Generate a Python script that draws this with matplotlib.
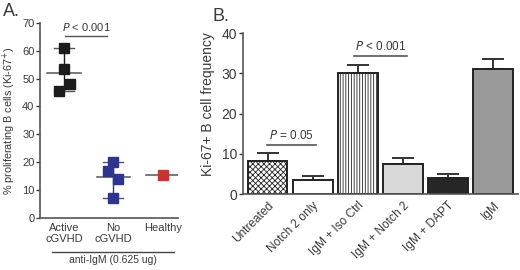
import numpy as np
import matplotlib.pyplot as plt
from matplotlib.transforms import blended_transform_factory

plt.rcParams['font.family'] = ['Liberation Sans', 'DejaVu Sans']
plt.rcParams['hatch.linewidth'] = 0.6

# panel A data
groups_a = ["Active\ncGVHD", "No\ncGVHD", "Healthy"]
active_vals = [61, 53.5, 48, 45.5]
active_jit = [0.0, 0.0, 0.12, -0.1]
nocgvhd_vals = [20, 17, 14, 7]
nocgvhd_jit = [0.0, -0.1, 0.1, 0.0]
healthy_vals = [15.5]
healthy_jit = [0.0]
centers_a = [52, 14.7, 15.5]
colors_a = ["#1c1c1c", "#2d3590", "#c8342f"]

# panel B data
groups_b = ["Untreated", "Notch 2 only", "IgM + Iso Ctrl", "IgM + Notch 2", "IgM + DAPT", "IgM"]
means_b = [8.3, 3.6, 30.1, 7.6, 4.1, 31.1]
err_b = [1.8, 1.0, 1.9, 1.5, 1.0, 2.5]
fills_b = ["white", "white", "white", "#d9d9d9", "#262626", "#9a9a9a"]
hatches_b = ["xxxxxx", "", "||||||", "", "", ""]

txt = "#3a3a3a"
fig = plt.figure(figsize=(5.2, 2.7), dpi=100)

# ---- A ----
ax = fig.add_axes([0.077, 0.193, 0.265, 0.722])
series = [(active_vals, active_jit), (nocgvhd_vals, nocgvhd_jit), (healthy_vals, healthy_jit)]
for i, (vals, jit) in enumerate(series):
    c = colors_a[i]
    if len(vals) > 1:
        ax.plot([i, i], [min(vals), max(vals)], color=c, lw=1, zorder=1)
        ax.plot([i - 0.2, i + 0.2], [max(vals)] * 2, color="#555555", lw=1, zorder=1)
        ax.plot([i - 0.2, i + 0.2], [min(vals)] * 2, color="#555555", lw=1, zorder=1)
    ax.plot([i - 0.34, i + 0.34], [centers_a[i]] * 2, color="#555555", lw=1.1, zorder=1)
    ax.plot(np.array(jit) + i, vals, "s", color=c, ms=6.5, zorder=3)

ax.set_xlim(-0.48, 2.3)
ax.set_ylim(0, 70)
ax.set_yticks(range(0, 71, 10))
ax.set_xticks(range(3))
ax.set_xticklabels(groups_a, fontsize=8, color=txt, linespacing=1.1)
ax.tick_params(axis='x', length=0, pad=4)
ax.tick_params(axis='y', labelsize=8, colors=txt, length=3, width=1, pad=1)
for s in ["top", "right"]:
    ax.spines[s].set_visible(False)
for s in ["left", "bottom"]:
    ax.spines[s].set_color("#555555")
    ax.spines[s].set_linewidth(1.2)
ax.set_ylabel("% proliferating B cells (Ki-67$^{+}$)", fontsize=7.8, color=txt, labelpad=3)
ax.plot([0.02, 0.88], [65.3, 65.3], color="#555555", lw=1, clip_on=False)
ax.text(0.45, 66.3, "$P$ < 0.001", ha="center", va="bottom", fontsize=8, color=txt)
tr = blended_transform_factory(ax.transData, ax.transAxes)
ax.plot([-0.24, 2.22], [-0.175, -0.175], color="#444444", lw=1, transform=tr, clip_on=False)
ax.text(0.99, -0.19, "anti-IgM (0.625 ug)", ha="center", va="top", fontsize=7.5,
        color=txt, transform=tr)
fig.text(0.006, 0.99, "A.", fontsize=13, color=txt, va="top")

# ---- B ----
bx = fig.add_axes([0.467, 0.281, 0.529, 0.596])
x = np.arange(len(groups_b))
bx.bar(x, means_b, width=0.88, color=fills_b, edgecolor="#222222", lw=1.4,
       hatch=hatches_b, zorder=2)
for xi, m, e in zip(x, means_b, err_b):
    bx.errorbar(xi, m, yerr=[[0], [e]], fmt="none", ecolor="#333333", elinewidth=1.4,
                capsize=8, capthick=1.4, zorder=1)
bx.set_xlim(-0.55, 5.55)
bx.set_ylim(0, 40)
bx.set_yticks(range(0, 41, 10))
bx.set_xticks(x)
bx.set_xticklabels(groups_b, rotation=45, ha="right", rotation_mode="anchor",
                   fontsize=8.6, color=txt)
bx.tick_params(axis='x', length=0, pad=4)
bx.tick_params(axis='y', labelsize=10, colors=txt, length=3, width=1, pad=1)
for s in ["top", "right"]:
    bx.spines[s].set_visible(False)
for s in ["left", "bottom"]:
    bx.spines[s].set_color("#555555")
    bx.spines[s].set_linewidth(1.2)
bx.set_ylabel("Ki-67+ B cell frequency", fontsize=10, color=txt, labelpad=3)
bx.yaxis.set_label_coords(-0.1, 0.56)
bx.plot([-0.02, 1.08], [12.2, 12.2], color="#555555", lw=1.2)
bx.text(0.53, 13.0, "$P$ = 0.05", ha="center", va="bottom", fontsize=8.5, color=txt)
bx.plot([1.92, 3.09], [34.3, 34.3], color="#555555", lw=1.2)
bx.text(2.5, 35.1, "$P$ < 0.001", ha="center", va="bottom", fontsize=8.5, color=txt)
fig.text(0.408, 0.97, "B.", fontsize=13, color=txt, va="top")

fig.savefig("out.png", dpi=100)
